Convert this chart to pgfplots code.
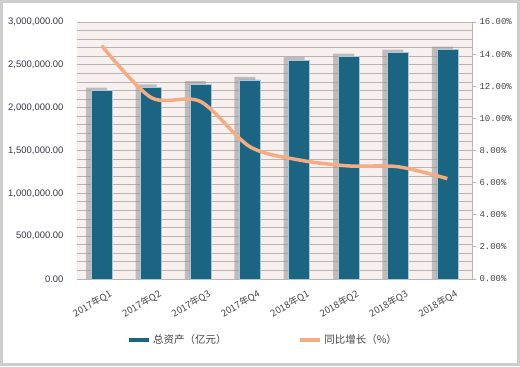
\documentclass[border=0pt]{standalone}
\usepackage{pgfplots}
\usepackage{pgfplotstable}
\pgfplotsset{compat=1.18}
\usepackage{fontspec}
\setmainfont{Liberation Sans}
\newfontfamily\cjk{Noto Sans CJK SC}
\newfontfamily\monon{Liberation Mono}
\definecolor{barblue}{RGB}{27,100,130}
\definecolor{baredge}{RGB}{170,200,215}
\definecolor{lineor}{RGB}{246,172,130}
\definecolor{plotbg}{RGB}{248,239,239}
\definecolor{gridc}{RGB}{185,180,180}
\definecolor{framec}{RGB}{205,205,205}
\definecolor{ltick}{RGB}{55,55,80}
\definecolor{rtick}{RGB}{70,70,70}

\pgfplotstableread{
x assets growth
0 2198000 14.53
1 2238000 11.30
2 2276000 11.05
3 2323000 8.24
4 2556000 7.41
5 2595000 7.04
6 2642000 6.99
7 2677000 6.25
}\data

\begin{document}
\begin{tikzpicture}[x=1bp,y=1bp]
\draw[framec, line width=3bp, fill=white] (1.5,1.5) rectangle (518.5,364.5);
\begin{axis}[
  at={(77bp,87bp)}, anchor=south west,
  scale only axis, width=395bp, height=257bp,
  xmin=-0.5, xmax=7.5, ymin=0, ymax=3000000,
  axis background/.style={fill=plotbg},
  axis line style={draw=none},
  xtick={0,...,7},
  xticklabels={2017年Q1,2017年Q2,2017年Q3,2017年Q4,2018年Q1,2018年Q2,2018年Q3,2018年Q4},
  xticklabel style={rotate=30, anchor=north east, font=\cjk\fontsize{9.5}{11}\selectfont, text=rtick, xshift=2bp, yshift=-11bp, inner sep=1bp},
  ytick={0,500000,...,3000000},
  minor ytick={0,100000,...,3000000},
  ymajorgrids, yminorgrids,
  major grid style={gridc, line width=0.9bp},
  minor grid style={gridc, line width=0.9bp},
  major tick length=0pt, minor tick length=0pt,
  scaled y ticks=false,
  /pgf/number format/assume math mode=true,
  yticklabel style={/pgf/number format/.cd, fixed, fixed zerofill, precision=2, 1000 sep={,}, /tikz/.cd, font=\fontsize{9.5}{11}\selectfont, text=ltick, xshift=-10bp},
]
\addplot[ybar, bar width=21bp, bar shift=-5bp, fill=gray!85, draw=none, opacity=0.55, forget plot]
  table[x=x, y expr=\thisrow{assets}+35000] {\data};
\addplot[ybar, bar width=21bp, bar shift=0bp, fill=barblue, draw=baredge, line width=0.6bp]
  table[x=x, y=assets] {\data};
\end{axis}
\begin{axis}[
  at={(77bp,87bp)}, anchor=south west,
  scale only axis, width=395bp, height=257bp,
  xmin=-0.5, xmax=7.5, ymin=0, ymax=16,
  axis x line=none, axis y line*=right,
  y axis line style={gridc, line width=0.8bp},
  ytick={0,2,...,16},
  ytick style={gridc, line width=0.8bp},
  tick align=outside, major tick length=4bp,
  /pgf/number format/assume math mode=true,
  yticklabel={\pgfmathprintnumber[fixed, fixed zerofill, precision=2]{\tick}\%},
  yticklabel style={font=\monon\fontsize{9}{11}\selectfont, text=rtick, xshift=0bp},
  legend style={at={(0.471,-0.237)}, anchor=center, draw=none, fill=none,
    legend columns=2, font=\cjk\fontsize{10.5}{12}\selectfont, text=rtick,
    /tikz/every even column/.append style={column sep=70bp}},
  legend image code/.code={\draw[#1, line width=4bp] (0bp,0bp) -- (20bp,0bp);},
]
\addlegendimage{barblue}
\addlegendentry{总资产（亿元）}
\addplot[lineor, line width=3.5bp, smooth, tension=0.5, no markers]
  table[x=x, y=growth] {\data};
\addlegendentry{同比增长（\%）}
\end{axis}
\end{tikzpicture}
\end{document}
